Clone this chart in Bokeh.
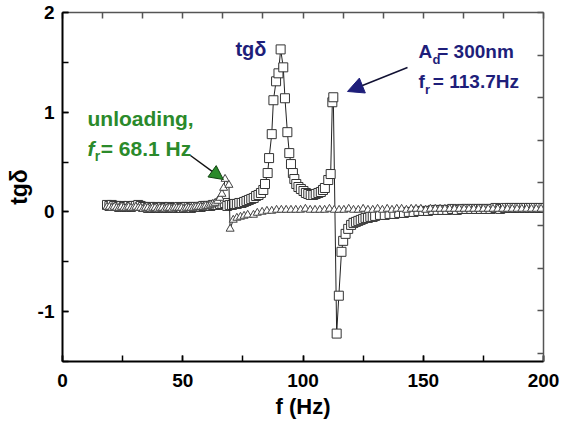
from bokeh.plotting import figure
from bokeh.models import Range1d, LinearAxis, SingleIntervalTicker, Label, Arrow, NormalHead
from bokeh.embed import file_html
from bokeh.resources import INLINE

# ---- data: loading (squares), A_d = 300 nm ----
load_f = [18.5, 19.5, 20.5, 21.5, 22.5, 23.5, 24.5, 25.5, 26.5, 27.5,
          28.5, 29.5, 30.5, 31.5, 32.5, 33.5, 34.5, 35.5, 36.5, 37.5,
          38.5, 39.5, 40.5, 41.5, 42.5, 43.5, 44.5, 45.5, 46.5, 47.5,
          48.5, 49.5, 50.5, 51.5, 52.5, 53.5, 54.5, 55.5, 56.5, 57.5,
          58.5, 59.5, 60.5, 61.5, 62.5, 63.5, 64.5, 65.5, 66.5, 67.5,
          68.5, 69.5, 70.5, 71.5, 72.5, 73.5, 74.5, 75.5, 76.5, 77.5,
          78.5, 79.5, 80.5, 81.5, 82.5, 83.5,
          84.2, 85.3, 85.9, 87.0, 87.7, 88.8, 89.8, 90.7, 91.8, 92.5,
          93.5, 94.3, 95.0, 95.8, 96.4, 97.2, 98.1, 99.1, 100.2, 101.2,
          102.2, 103.2, 104.3, 105.3, 106.4, 107.4, 108.3, 109.1, 110.5, 111.5,
          112.2, 112.6, 114.0, 114.9, 116.0, 116.7, 117.7, 118.8,
          120, 121, 122, 123, 124, 125, 126, 127, 128, 129, 130,
          132, 134, 136, 138, 140, 142, 144, 146, 148, 150,
          152, 154, 156, 158, 160, 162, 164, 166, 168, 170,
          172, 174, 176, 178, 180, 182, 184, 186, 188, 190,
          192, 194, 196, 198, 200]
load_tg = [0.07, 0.06, 0.07, 0.06, 0.06, 0.05, 0.06, 0.05, 0.05, 0.06,
           0.05, 0.06, 0.06, 0.07, 0.06, 0.05, 0.05, 0.04, 0.05, 0.04,
           0.05, 0.04, 0.04, 0.05, 0.04, 0.04, 0.05, 0.04, 0.04, 0.04,
           0.05, 0.04, 0.04, 0.05, 0.05, 0.04, 0.05, 0.05, 0.05, 0.05,
           0.06, 0.06, 0.06, 0.06, 0.07, 0.07, 0.07, 0.08, 0.08, 0.09,
           0.06, 0.07, 0.07, 0.08, 0.08, 0.09, 0.09, 0.10, 0.11, 0.12,
           0.13, 0.14, 0.16, 0.17, 0.19, 0.22,
           0.28, 0.39, 0.54, 0.78, 1.12, 1.31, 1.39, 1.63, 1.45, 1.14,
           0.80, 0.59, 0.48, 0.39, 0.33, 0.28, 0.25, 0.23, 0.21, 0.19,
           0.18, 0.17, 0.17, 0.18, 0.19, 0.20, 0.22, 0.24, 0.32, 0.38,
           1.10, 1.15, -1.22, -0.84, -0.40, -0.29, -0.22, -0.17,
           -0.13, -0.11, -0.10, -0.09, -0.08, -0.07, -0.06, -0.06, -0.05, -0.05, -0.04,
           -0.03, -0.03, -0.02, -0.02, -0.01, -0.01, 0.00, 0.00, 0.01, 0.01,
           0.01, 0.02, 0.02, 0.02, 0.02, 0.03, 0.02, 0.03, 0.03, 0.03,
           0.03, 0.03, 0.03, 0.03, 0.04, 0.03, 0.04, 0.04, 0.04, 0.04,
           0.04, 0.04, 0.04, 0.04, 0.04]

# ---- data: unloading (triangles) ----
unload_f = [18.5, 19.5, 20.5, 21.5, 22.5, 23.5, 24.5, 25.5, 26.5, 27.5,
            28.5, 29.5, 30.5, 31.5, 32.5, 33.5, 34.5, 35.5, 36.5, 37.5,
            38.5, 39.5, 40.5, 41.5, 42.5, 43.5, 44.5, 45.5, 46.5, 47.5,
            48.5, 49.5, 50.5, 51.5, 52.5, 53.5, 54.5, 55.5, 56.5, 57.5,
            58.5, 59.5, 60.5, 61.5, 62.5, 63.5, 64.5, 65.5,
            66.3, 67.0, 67.6, 69.2, 69.7, 71.0, 72.5, 74.0, 75.5, 77.0,
            79.4, 81, 83, 85, 87,
            89, 91, 93, 95, 97, 99, 101, 103, 105, 107,
            109, 111, 113, 115, 117, 119, 121, 123, 125, 127,
            129, 131, 133, 135, 137, 139, 141, 143, 145, 147,
            149, 151, 153, 155, 157, 159, 161, 163, 165, 167,
            169, 171, 173, 175, 177, 179, 181, 183, 185, 187,
            189, 191, 193, 195, 197, 199]
unload_tg = [0.05, 0.05, 0.04, 0.05, 0.04, 0.04, 0.05, 0.04, 0.04, 0.05,
             0.04, 0.04, 0.05, 0.04, 0.04, 0.03, 0.04, 0.04, 0.03, 0.04,
             0.04, 0.03, 0.04, 0.04, 0.03, 0.04, 0.04, 0.03, 0.04, 0.04,
             0.04, 0.04, 0.03, 0.04, 0.04, 0.04, 0.04, 0.05, 0.05, 0.05,
             0.05, 0.06, 0.06, 0.07, 0.08, 0.09, 0.11, 0.14,
             0.18, 0.24, 0.33, 0.27, -0.17, -0.08, -0.06, -0.05, -0.04, -0.03,
             -0.03, -0.01, 0.00, 0.01, 0.01,
             0.02, 0.02, 0.02, 0.02, 0.02, 0.02, 0.03, 0.02, 0.02, 0.02,
             0.02, 0.03, 0.02, 0.02, 0.02, 0.03, 0.02, 0.02, 0.03, 0.02,
             0.02, 0.03, 0.02, 0.03, 0.02, 0.03, 0.03, 0.02, 0.03, 0.03,
             0.03, 0.02, 0.03, 0.03, 0.03, 0.03, 0.03, 0.03, 0.03, 0.03,
             0.03, 0.03, 0.03, 0.03, 0.03, 0.03, 0.03, 0.03, 0.03, 0.03,
             0.03, 0.03, 0.03, 0.03, 0.03, 0.03]

FONT = "Liberation Sans"
NAVY = "#1e1e7a"
GREEN = "#2b8a2b"

p = figure(width=568, height=424, x_range=Range1d(0, 200), y_range=Range1d(-1.5, 2.0),
           output_backend="svg", toolbar_location=None,
           x_axis_location=None, y_axis_location=None,
           min_border_left=62, min_border_top=12, min_border_right=25, min_border_bottom=63)
p.xgrid.visible = False
p.ygrid.visible = False
p.outline_line_color = None
p.background_fill_color = "white"
p.border_fill_color = "white"

def style_axis(ax, labels=True, lw=2, color="black"):
    ax.major_tick_in = 6
    ax.major_tick_out = 0
    ax.minor_tick_in = 6
    ax.minor_tick_out = 0
    ax.axis_line_width = lw
    ax.axis_line_color = color
    ax.major_tick_line_color = color
    ax.minor_tick_line_color = color
    ax.major_tick_line_width = 1.5
    ax.minor_tick_line_width = 1.5
    if labels:
        ax.major_label_text_font = FONT
        ax.major_label_text_font_style = "bold"
        ax.major_label_text_font_size = "19px"
        ax.major_label_text_color = "black"
        ax.axis_label_text_font = FONT
        ax.axis_label_text_font_style = "bold"
        ax.axis_label_text_color = "black"
    else:
        ax.major_label_text_font_size = "0px"
        ax.major_label_text_color = None
        ax.major_label_standoff = 0
        ax.minor_tick_line_color = None

xb = LinearAxis(ticker=SingleIntervalTicker(interval=50, num_minor_ticks=2), axis_label="f (Hz)")
style_axis(xb)
xb.major_label_standoff = 12
xb.axis_label_standoff = 4
xb.axis_label_text_font_size = "22px"
p.add_layout(xb, "below")

yl = LinearAxis(ticker=SingleIntervalTicker(interval=1, num_minor_ticks=2), axis_label="tgδ")
style_axis(yl)
yl.major_label_standoff = 8
yl.axis_label_standoff = 3
yl.axis_label_text_font_size = "23px"
yl.major_label_overrides = {-1: "-1"}
p.add_layout(yl, "left")

p.extra_x_ranges = {"top": Range1d(0, 12)}
p.extra_y_ranges = {"right": Range1d(-0.19, 8.0)}
xt = LinearAxis(x_range_name="top", ticker=SingleIntervalTicker(interval=1, num_minor_ticks=0))
style_axis(xt, labels=False, lw=1.5, color="#555555")
p.add_layout(xt, "above")
yr = LinearAxis(y_range_name="right", ticker=SingleIntervalTicker(interval=1, num_minor_ticks=0))
style_axis(yr, labels=False, lw=1.5, color="#555555")
p.add_layout(yr, "right")

# series
p.line(load_f, load_tg, line_color="#222222", line_width=1)
p.scatter(load_f, load_tg, marker="square", size=9, fill_color="white",
          line_color="#333333", line_width=1)
p.line(unload_f, unload_tg, line_color="#222222", line_width=1)
p.scatter(unload_f, unload_tg, marker="triangle", size=8, fill_color="white",
          line_color="#444444", line_width=1)

def lab(x, y, t, color, size="19px", style="bold"):
    p.add_layout(Label(x=x, y=y, text=t, text_font=FONT, text_font_size=size,
                       text_font_style=style, text_color=color, text_baseline="middle",
                       text_align="left"))

# annotations
lab(71.9, 1.629, "tgδ", NAVY, size="20px")
lab(148.0, 1.609, "A", NAVY)
lab(153.85, 1.529, "d", NAVY, size="13px")
lab(155.8, 1.609, "= 300nm", NAVY)
lab(148.0, 1.308, "f", NAVY)
lab(150.7, 1.228, "r", NAVY, size="13px")
lab(154.0, 1.308, "= 113.7Hz", NAVY)
lab(10.4, 0.937, "unloading,", GREEN, size="21px")
lab(10.4, 0.636, "f", GREEN, size="21px", style="bold italic")
lab(13.4, 0.556, "r", GREEN, size="14px")
lab(15.9, 0.636, "= 68.1 Hz", GREEN, size="21px")

p.add_layout(Arrow(end=NormalHead(size=16, fill_color=NAVY, line_color=NAVY),
                   x_start=143.45, y_start=1.448, x_end=118.5, y_end=1.208,
                   line_color="#111133", line_width=1.5))
p.add_layout(Arrow(end=NormalHead(size=14, fill_color=GREEN, line_color="#114411", line_width=1),
                   x_start=53.2, y_start=0.566, x_end=66.9, y_end=0.325,
                   line_color="#111111", line_width=1.5))

open("out.html", "w").write(file_html(p, INLINE))
